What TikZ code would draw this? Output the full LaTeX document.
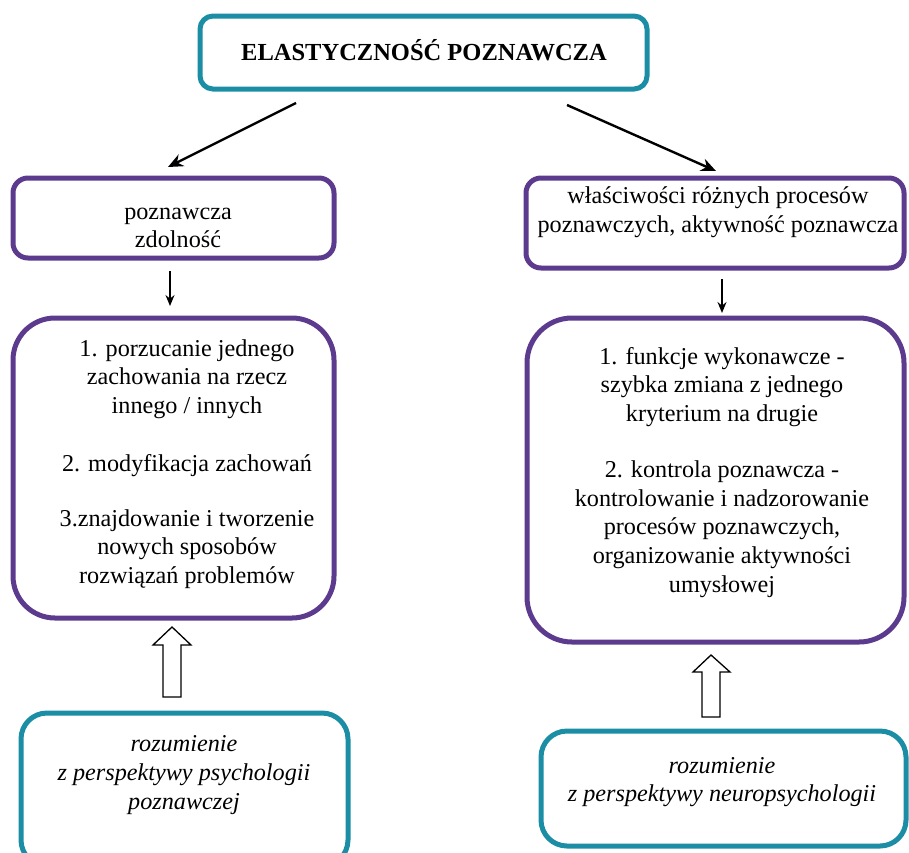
\documentclass[tikz,border=0pt]{standalone}
\usepackage{fontspec}
\setmainfont{Liberation Serif}
\usetikzlibrary{arrows.meta}
\definecolor{tealline}{HTML}{1B8EA5}
\definecolor{violetline}{HTML}{5C3B8E}
\begin{document}
\begin{tikzpicture}[x=1pt,y=-1pt,
  tealbox/.style={draw=tealline,line width=5pt,fill=white},
  violetbox/.style={draw=violetline,line width=5pt,fill=white},
  txt/.style={font=\fontsize{24.2}{28.7}\selectfont,align=center,inner sep=0pt},
  link/.style={draw=black,line width=2.4pt,-{Stealth[length=15pt,width=13pt]}},
  thin link/.style={draw=black,line width=1.6pt,-{Stealth[length=11pt,width=9pt]}},
  hollow/.style={draw=black,line width=1.3pt,fill=white}]
\useasboundingbox (0,0) rectangle (909,852);

% top title
\draw[tealbox,rounded corners=13pt] (200,16) rectangle (647,89);
\node[txt,font=\fontsize{24.5}{29}\selectfont\bfseries] (title) at (424,50) {ELASTYCZNOŚĆ POZNAWCZA};
\coordinate (titleL) at (296,103);
\coordinate (titleR) at (567,105);

% second level
\draw[violetbox,rounded corners=15pt] (13,178) rectangle (334,258);
\node[txt] (ability) at (178,228) {poznawcza\\zdolność};
\draw[violetbox,rounded corners=15pt] (526,178) rectangle (904,268);
\node[txt] (prop) at (718,212) {właściwości różnych procesów\\poznawczych, aktywność poznawcza};

\coordinate (abilityTop) at (168,167);
\coordinate (propTop) at (716,171);
\draw[link] (titleL) -- (abilityTop);
\draw[link] (titleR) -- (propTop);

% third level
\draw[violetbox,rounded corners=42pt] (13,318) rectangle (334,618);
\node[txt] (leftA) at (187,379) {1. porzucanie jednego\\zachowania na rzecz\\innego / innych};
\node[txt] (leftB) at (187,466) {2. modyfikacja zachowań};
\node[txt] (leftC) at (187,549) {3.znajdowanie i tworzenie\\nowych sposobów\\rozwiązań problemów};

\draw[violetbox,rounded corners=45pt] (527,318) rectangle (904,642);
\node[txt] (rightA) at (722,387) {1. funkcje wykonawcze -\\szybka zmiana z jednego\\kryterium na drugie};
\node[txt] (rightB) at (722,529) {2. kontrola poznawcza -\\kontrolowanie i nadzorowanie\\procesów poznawczych,\\organizowanie aktywności\\umysłowej};

\coordinate (a1) at (170,271);
\coordinate (a2) at (170,306);
\coordinate (b1) at (722,279);
\coordinate (b2) at (722,313);
\draw[thin link] (a1) -- (a2);
\draw[thin link] (b1) -- (b2);

% hollow block arrows
\draw[hollow] (163,697) -- (163,645) -- (153,645) -- (172,627) -- (191,645) -- (181,645) -- (181,697) -- cycle;
\draw[hollow] (702,717) -- (702,672) -- (693,672) -- (711,655) -- (730,672) -- (720,672) -- (720,717) -- cycle;

% bottom level
\draw[tealbox,rounded corners=26pt] (21,713) rectangle (348,866);
\node[txt,font=\fontsize{24.2}{28.7}\selectfont\itshape] (psy) at (184,775) {rozumienie\\z perspektywy psychologii\\poznawczej};
\draw[tealbox,rounded corners=26pt] (541,731) rectangle (906,846);
\node[txt,font=\fontsize{24.2}{28.7}\selectfont\itshape] (neuro) at (722,782) {rozumienie\\z perspektywy neuropsychologii};
\end{tikzpicture}
\end{document}
